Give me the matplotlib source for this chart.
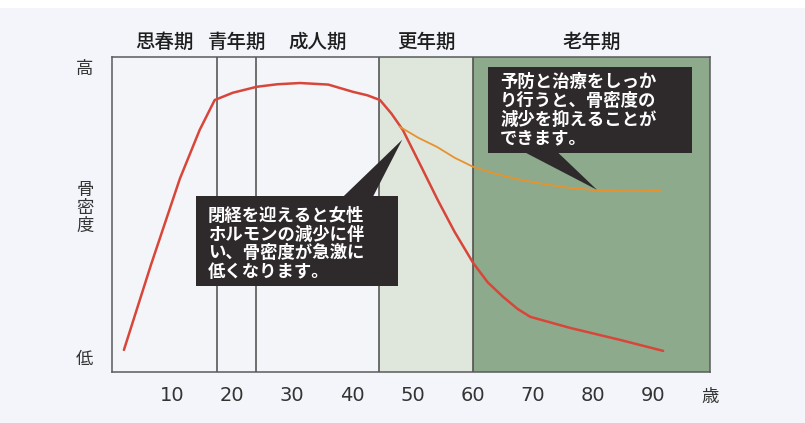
import matplotlib
matplotlib.use("Agg")
from matplotlib import pyplot as plt
from matplotlib.patches import Polygon, Rectangle

plt.rcParams['font.family'] = ['Noto Sans CJK JP', 'DejaVu Sans']

# life stages (boundaries in years) and their labels
stage_names = ["思春期", "青年期", "成人期", "更年期", "老年期"]
stage_edges = [0, 17.5, 24, 44.5, 60, 99.5]

# bone density, no treatment (age, relative density 0-100)
red_age = [2.0, 6.5, 11.3, 14.6, 17.1, 20.1, 24.1, 27.5, 31.3, 36.0, 40.1,
           42.5, 44.6, 46.5, 48.4, 51.5, 54.2, 57.0, 60.1, 62.5, 65.1, 67.5,
           69.6, 76.2, 84.5, 91.7]
red_val = [7.0, 34.0, 61.3, 76.8, 86.3, 88.6, 90.5, 91.3, 91.7, 91.2, 88.9,
           87.8, 86.3, 82.0, 76.8, 65.0, 54.6, 44.5, 34.6, 28.5, 23.8, 20.0,
           17.5, 14.0, 10.2, 6.7]

# bone density with prevention / treatment
orange_age = [47.9, 51.0, 54.1, 57.0, 60.1, 64.0, 67.9, 72.0, 76.2, 81.7, 86.5, 91.2]
orange_val = [77.8, 74.3, 71.4, 68.0, 65.1, 62.8, 61.0, 59.6, 58.4, 57.5, 57.4, 57.5]

x_ticks = [10, 20, 30, 40, 50, 60, 70, 80, 90]

note_drop = "閉経を迎えると女性\nホルモンの減少に伴\nい、骨密度が急激に\n低くなります。"
note_keep = "予防と治療をしっか\nり行うと、骨密度の\n減少を抑えることが\nできます。"

fig = plt.figure(figsize=(8.05, 4.23), dpi=100)
fig.patch.set_facecolor("#f3f5fa")
fig.patches.append(Rectangle((0, 0.98), 1, 0.02, transform=fig.transFigure,
                             facecolor="white", edgecolor="none", zorder=0))
ax = fig.add_axes([0.139, 0.1206, 0.743, 0.745])
ax.set_facecolor("#f4f5f9")
ax.set_xlim(stage_edges[0], stage_edges[-1])
ax.set_ylim(0, 100)

# shaded stages
ax.axvspan(stage_edges[3], stage_edges[4], color="#dfe6dc", zorder=0)
ax.axvspan(stage_edges[4], stage_edges[5], color="#8dab8c", zorder=0)
for e in stage_edges[1:5]:
    ax.axvline(e, color="#4a4a4a", lw=1.1, zorder=1)

for name, lo, hi in zip(stage_names, stage_edges[:-1], stage_edges[1:]):
    ax.text((lo + hi) / 2, 104.5, name, ha="center", va="center",
            fontsize=14, fontweight="medium", color="#1e1e1e")

ax.plot(red_age, red_val, color="#d8463a", lw=1.8, zorder=3,
        solid_capstyle="round", solid_joinstyle="round")
ax.plot(orange_age, orange_val, color="#e8922e", lw=1.3, zorder=3,
        solid_joinstyle="round")

# callout boxes
box_col = "#2e292b"
ax.add_patch(Rectangle((14.0, 27.3), 33.6, 28.6, facecolor=box_col, edgecolor="none", zorder=4))
ax.add_patch(Polygon([(38.4, 55.5), (43.4, 55.5), (48.3, 73.7)], closed=True,
                     facecolor=box_col, edgecolor="none", zorder=4))
ax.text(16.0, 40.6, note_drop, ha="left", va="center", fontsize=12.5,
        fontweight="bold", color="white", linespacing=1.05, zorder=5)

ax.add_patch(Rectangle((62.6, 69.5), 33.9, 27.3, facecolor=box_col, edgecolor="none", zorder=4))
ax.add_patch(Polygon([(68.4, 70.0), (74.0, 70.0), (80.7, 57.8)], closed=True,
                     facecolor=box_col, edgecolor="none", zorder=4))
ax.text(64.6, 83.0, note_keep, ha="left", va="center", fontsize=12.5,
        fontweight="bold", color="white", linespacing=1.05, zorder=5)

ax.set_xticks(x_ticks)
ax.set_xticklabels([str(t) for t in x_ticks], fontsize=14, color="#333333",
                   family=["DejaVu Sans"])
ax.tick_params(axis="x", length=0, pad=10)
ax.set_yticks([])
for s in ax.spines.values():
    s.set_color("#5a5a5a")
    s.set_linewidth(1.1)

ax.text(-4.5, 96, "高", ha="center", va="center", fontsize=12.5, color="#333333")
ax.text(-4.5, 4, "低", ha="center", va="center", fontsize=12.5, color="#333333")
ax.text(-4.5, 52, "骨\n密\n度", ha="center", va="center", fontsize=12.5,
        color="#333333", linespacing=1.0)
ax.text(99.5, -8, "歳", ha="center", va="center", fontsize=12.5, color="#333333")

fig.savefig("out.png", dpi=100, facecolor=fig.get_facecolor())
